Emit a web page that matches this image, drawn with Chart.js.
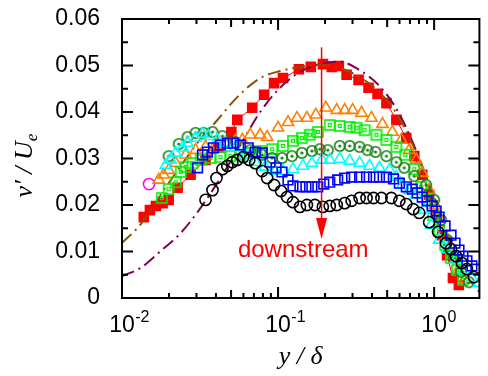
<!DOCTYPE html>
<html>
<head>
<meta charset="utf-8">
<script src="https://cdn.jsdelivr.net/npm/chart.js@4.4.0/dist/chart.umd.min.js"></script>
<style>
    html, body { margin: 0; padding: 0; background: #fff; }
    #wrap { width: 488px; height: 376px; }
</style>
</head>
<body>
<div id="wrap"><canvas id="profileChart" width="488" height="376"></canvas></div>
<script>
// perfis de v'/Ue em funcao de y/delta
const redX = [0.0138, 0.0151, 0.0165, 0.0182, 0.0199, 0.0227, 0.0275, 0.0343, 0.0415, 0.0502, 0.0548, 0.0683, 0.0814, 0.0943, 0.1076, 0.136, 0.162, 0.194, 0.221, 0.245, 0.275, 0.328, 0.380, 0.434, 0.495, 0.573, 0.663, 0.746, 0.839, 0.929, 1.03, 1.125, 1.21, 1.32, 1.44];
const redY = [0.0174, 0.0189, 0.0198, 0.0204, 0.0211, 0.0237, 0.0265, 0.0297, 0.0323, 0.0357, 0.0383, 0.0409, 0.0437, 0.0462, 0.0473, 0.0492, 0.0497, 0.0503, 0.0497, 0.0499, 0.0480, 0.0469, 0.0452, 0.0439, 0.0419, 0.0383, 0.0344, 0.0305, 0.0265, 0.0222, 0.0178, 0.0135, 0.0092, 0.0043, 0.0028];

const orangeX = [0.0172, 0.0185, 0.0199, 0.0221, 0.0256, 0.0296, 0.0343, 0.0397, 0.0460, 0.0532, 0.0590, 0.0663, 0.0768, 0.0851, 0.100, 0.1158, 0.1321, 0.153, 0.1746, 0.2022, 0.2376, 0.2672, 0.3004, 0.3428, 0.3969, 0.4666, 0.5401, 0.6164, 0.6932, 0.7681, 0.8387, 0.9294, 1.015, 1.076, 1.192, 1.302, 1.422, 1.553];
const orangeY = [0.0254, 0.0265, 0.0275, 0.0290, 0.0308, 0.0318, 0.0325, 0.0329, 0.0333, 0.0338, 0.0340, 0.0351, 0.0351, 0.0346, 0.0366, 0.0378, 0.0387, 0.0387, 0.0394, 0.0409, 0.0404, 0.0404, 0.0404, 0.0398, 0.0387, 0.0374, 0.0357, 0.0340, 0.0318, 0.0297, 0.0269, 0.0232, 0.0200, 0.0174, 0.0131, 0.0092, 0.0060, 0.0039];

const greenX = [0.0180, 0.0199, 0.0221, 0.0238, 0.0256, 0.0283, 0.0319, 0.0369, 0.0427, 0.0495, 0.0573, 0.0663, 0.0768, 0.0916, 0.1076, 0.1246, 0.1422, 0.1599, 0.1798, 0.2144, 0.2483, 0.2875, 0.3186, 0.3583, 0.4272, 0.4946, 0.5728, 0.6535, 0.7459, 0.8265, 0.9024, 0.9854, 1.076, 1.175, 1.283, 1.401, 1.530];
const greenY = [0.0215, 0.0234, 0.0249, 0.0271, 0.0282, 0.0290, 0.0297, 0.0301, 0.0303, 0.0305, 0.0308, 0.0312, 0.0316, 0.0320, 0.0327, 0.0338, 0.0344, 0.0351, 0.0357, 0.0372, 0.0370, 0.0368, 0.0366, 0.0361, 0.0351, 0.0340, 0.0325, 0.0308, 0.0277, 0.0239, 0.0211, 0.0178, 0.0146, 0.0114, 0.0086, 0.0060, 0.0039];

const darkX = [0.0199, 0.0231, 0.0263, 0.0296, 0.0333, 0.0380, 0.0440, 0.0532, 0.0663, 0.0791, 0.0916, 0.1060, 0.1228, 0.1422, 0.1647, 0.1852, 0.2082, 0.2483, 0.2875, 0.3330, 0.3743, 0.4209, 0.4946, 0.5728, 0.6439, 0.7459, 0.8892, 1.0, 1.108, 1.210, 1.341, 1.486, 1.671];
const darkY = [0.0305, 0.0331, 0.0346, 0.0355, 0.0355, 0.0357, 0.0348, 0.0335, 0.0318, 0.0308, 0.0301, 0.0301, 0.0305, 0.0312, 0.0316, 0.0320, 0.0318, 0.0327, 0.0327, 0.0325, 0.0318, 0.0314, 0.0305, 0.0292, 0.0280, 0.0262, 0.0243, 0.0211, 0.0168, 0.0125, 0.0086, 0.0056, 0.0034];

const cyanX = [0.0191, 0.0205, 0.0221, 0.0245, 0.0263, 0.0296, 0.0328, 0.0358, 0.0409, 0.0460, 0.0532, 0.0616, 0.0714, 0.0826, 0.0957, 0.1076, 0.1246, 0.1443, 0.1647, 0.1907, 0.2144, 0.2483, 0.2875, 0.3330, 0.3855, 0.4464, 0.5169, 0.5728, 0.6256, 0.6932, 0.7681, 0.8637, 0.9570, 1.076, 1.210, 1.381, 1.553, 1.746, 1.935];
const cyanY = [0.0286, 0.0297, 0.0312, 0.0323, 0.0333, 0.0344, 0.0353, 0.0348, 0.0340, 0.0333, 0.0323, 0.0308, 0.0292, 0.0282, 0.0273, 0.0273, 0.0277, 0.0284, 0.0290, 0.0297, 0.0297, 0.0299, 0.0295, 0.0290, 0.0284, 0.0280, 0.0275, 0.0260, 0.0243, 0.0232, 0.0222, 0.0189, 0.0157, 0.0125, 0.0105, 0.0082, 0.0060, 0.0043, 0.0032];

const blueX = [0.0305, 0.0328, 0.0353, 0.0386, 0.0427, 0.0473, 0.0517, 0.0573, 0.0644, 0.0714, 0.0791, 0.0889, 0.0971, 0.1060, 0.1158, 0.1246, 0.1381, 0.1508, 0.1647, 0.1798, 0.1963, 0.2144, 0.2410, 0.2672, 0.2960, 0.3330, 0.3688, 0.4088, 0.4464, 0.4946, 0.5481, 0.5984, 0.6632, 0.7244, 0.7795, 0.8387, 0.9024, 0.9712, 1.030, 1.076, 1.175, 1.283, 1.361, 1.443, 1.530, 1.623, 1.746, 1.852];
const blueY = [0.0280, 0.0308, 0.0314, 0.0323, 0.0329, 0.0333, 0.0333, 0.0329, 0.0323, 0.0314, 0.0312, 0.0292, 0.0280, 0.0271, 0.0254, 0.0241, 0.0239, 0.0239, 0.0239, 0.0239, 0.0245, 0.0249, 0.0254, 0.0258, 0.0260, 0.0260, 0.0260, 0.0260, 0.0260, 0.0260, 0.0256, 0.0247, 0.0239, 0.0234, 0.0226, 0.0217, 0.0209, 0.0198, 0.0187, 0.0174, 0.0155, 0.0135, 0.0118, 0.0103, 0.0090, 0.0080, 0.0069, 0.0062];

const blackX = [0.0343, 0.0380, 0.0403, 0.0440, 0.0473, 0.0509, 0.0548, 0.0599, 0.0654, 0.0714, 0.0791, 0.0851, 0.0943, 0.1045, 0.1141, 0.1246, 0.1381, 0.1530, 0.1721, 0.1935, 0.2144, 0.2376, 0.2672, 0.2960, 0.3330, 0.3688, 0.4088, 0.4597, 0.5322, 0.5984, 0.6632, 0.7350, 0.8025, 0.9294, 1.060, 1.192, 1.283, 1.381, 1.508, 1.623, 1.798];
const blackY = [0.0211, 0.0232, 0.0258, 0.0277, 0.0284, 0.0292, 0.0297, 0.0303, 0.0297, 0.0290, 0.0273, 0.0258, 0.0243, 0.0230, 0.0217, 0.0206, 0.0196, 0.0200, 0.0200, 0.0196, 0.0198, 0.0200, 0.0204, 0.0209, 0.0215, 0.0215, 0.0215, 0.0215, 0.0215, 0.0209, 0.0202, 0.0191, 0.0183, 0.0163, 0.0142, 0.0118, 0.0105, 0.0090, 0.0075, 0.0062, 0.0045];

const magentaX = [0.0149];
const magentaY = [0.0245];

// curvas de referencia (traco-ponto)
const brownX = [0.01, 0.0132, 0.0177, 0.0238, 0.0319, 0.0397, 0.0548, 0.0768, 0.103, 0.138, 0.185, 0.248, 0.333, 0.446, 0.598, 0.802, 1.075, 1.44, 1.95];
const brownY = [0.0118, 0.0159, 0.0222, 0.0284, 0.0342, 0.0378, 0.0432, 0.0473, 0.0488, 0.0497, 0.0501, 0.0495, 0.0475, 0.0443, 0.0387, 0.0297, 0.0178, 0.0071, 0.0013];
const purpleX = [0.01, 0.0132, 0.0177, 0.0238, 0.0319, 0.0427, 0.0573, 0.0768, 0.103, 0.138, 0.185, 0.248, 0.333, 0.446, 0.598, 0.802, 1.075, 1.44, 1.95];
const purpleY = [0.0047, 0.0065, 0.0101, 0.0140, 0.0194, 0.0258, 0.0329, 0.0400, 0.0452, 0.0486, 0.0503, 0.0508, 0.0490, 0.0456, 0.0396, 0.0301, 0.0183, 0.0073, 0.0013];

// eixos
const xMin = 0.01, xMax = 1.95;
const xDecades = [0.01, 0.1, 1];
const xExponents = ['-2', '-1', '0'];
const yTicks = [0, 0.01, 0.02, 0.03, 0.04, 0.05, 0.06];

// seta "downstream"
const arrowX = 0.19, arrowTop = 0.0539, arrowTip = 0.0127;
const noteX = 0.145, noteY = 0.0103, noteText = 'downstream';

function pts(xs, ys) {
    return xs.map((x, i) => ({ x: x, y: ys[i] }));
}

function boxDot(color) {
    const c = document.createElement('canvas');
    c.width = 14; c.height = 14;
    const g = c.getContext('2d');
    g.strokeStyle = color;
    g.lineWidth = 1.6;
    g.strokeRect(2, 2, 10, 10);
    g.lineWidth = 1.2;
    g.strokeRect(5.5, 5.5, 3, 3);
    return c;
}

function circleDot(color) {
    const c = document.createElement('canvas');
    c.width = 14; c.height = 14;
    const g = c.getContext('2d');
    g.strokeStyle = color;
    g.fillStyle = color;
    g.lineWidth = 1.6;
    g.beginPath(); g.arc(7, 7, 5.2, 0, Math.PI * 2); g.stroke();
    g.beginPath(); g.arc(7, 7, 1.6, 0, Math.PI * 2); g.fill();
    return c;
}

const axesPlugin = {
    id: 'axesFrame',
    afterDatasetsDraw(chart) {
        const ctx = chart.ctx;
        const a = chart.chartArea;
        const xs = chart.scales.x, ys = chart.scales.y;
        ctx.save();

        // seta
        const ax = xs.getPixelForValue(arrowX);
        const tip = ys.getPixelForValue(arrowTip);
        ctx.strokeStyle = '#ff0000';
        ctx.fillStyle = '#ff0000';
        ctx.lineWidth = 1.5;
        ctx.beginPath();
        ctx.moveTo(ax, ys.getPixelForValue(arrowTop));
        ctx.lineTo(ax, tip - 18);
        ctx.stroke();
        ctx.beginPath();
        ctx.moveTo(ax - 5.5, tip - 21);
        ctx.lineTo(ax + 5.5, tip - 21);
        ctx.lineTo(ax, tip);
        ctx.closePath();
        ctx.fill();

        ctx.font = '24px "Liberation Sans", Arial, sans-serif';
        ctx.textAlign = 'center';
        ctx.textBaseline = 'middle';
        ctx.fillText(noteText, xs.getPixelForValue(noteX), ys.getPixelForValue(noteY));

        // moldura
        ctx.strokeStyle = '#000';
        ctx.lineWidth = 2;
        ctx.strokeRect(a.left, a.top, a.right - a.left, a.bottom - a.top);

        // ticks do eixo y (para dentro, dos dois lados)
        ctx.beginPath();
        for (let i = 0; i < yTicks.length; i++) {
            const py = ys.getPixelForValue(yTicks[i]);
            ctx.moveTo(a.left, py); ctx.lineTo(a.left + 11, py);
            ctx.moveTo(a.right, py); ctx.lineTo(a.right - 11, py);
            if (i < yTicks.length - 1) {
                const pm = ys.getPixelForValue((yTicks[i] + yTicks[i + 1]) / 2);
                ctx.moveTo(a.left, pm); ctx.lineTo(a.left + 6, pm);
                ctx.moveTo(a.right, pm); ctx.lineTo(a.right - 6, pm);
            }
        }
        // ticks do eixo x (log)
        xDecades.forEach(d => {
            for (let m = 1; m <= 9; m++) {
                const v = d * m;
                if (v < xMin || v > xMax) continue;
                const px = xs.getPixelForValue(v);
                const len = m === 1 ? 11 : (m === 5 ? 8 : 5);
                ctx.moveTo(px, a.bottom); ctx.lineTo(px, a.bottom - len);
                ctx.moveTo(px, a.top); ctx.lineTo(px, a.top + len);
            }
        });
        ctx.stroke();

        // rotulos y
        ctx.fillStyle = '#000';
        ctx.font = '23px "Liberation Sans", Arial, sans-serif';
        ctx.textAlign = 'right';
        ctx.textBaseline = 'middle';
        yTicks.forEach(v => {
            ctx.fillText(v === 0 ? '0' : v.toFixed(2), a.left - 22, ys.getPixelForValue(v));
        });

        // rotulos x: 10 com expoente
        ctx.textBaseline = 'alphabetic';
        xDecades.forEach((d, i) => {
            const px = xs.getPixelForValue(d);
            ctx.font = '23px "Liberation Sans", Arial, sans-serif';
            ctx.textAlign = 'center';
            ctx.fillText('10', px, a.bottom + 34);
            const w = ctx.measureText('10').width;
            ctx.font = '16px "Liberation Sans", Arial, sans-serif';
            ctx.textAlign = 'left';
            ctx.fillText(xExponents[i], px + w / 2 + 0.5, a.bottom + 24);
        });

        // titulo x
        ctx.font = 'italic 26px "Liberation Serif", "Times New Roman", serif';
        ctx.textAlign = 'center';
        ctx.fillText('y / \u03b4', (a.left + a.right) / 2 + 0, a.bottom + 66);

        // titulo y (rodado)
        ctx.translate(32, (a.top + a.bottom) / 2 + 7);
        ctx.rotate(-Math.PI / 2);
        const mainFont = 'italic 26px "Liberation Serif", "Times New Roman", serif';
        const subFont = 'italic 17px "Liberation Serif", "Times New Roman", serif';
        ctx.font = mainFont;
        const main = 'v\u2032 / U';
        const wMain = ctx.measureText(main).width;
        ctx.font = subFont;
        const wSub = ctx.measureText('e').width;
        const x0 = -(wMain + wSub) / 2;
        ctx.textAlign = 'left';
        ctx.font = mainFont;
        ctx.fillText(main, x0, 0);
        ctx.font = subFont;
        ctx.fillText('e', x0 + wMain, 5);

        ctx.restore();
    }
};

document.addEventListener('DOMContentLoaded', function() {
    const ctx = document.getElementById('profileChart').getContext('2d');

    const marker = (label, xs, ys, style, color, radius, order, fill) => ({
        label: label,
        data: pts(xs, ys),
        showLine: false,
        pointStyle: style,
        pointRadius: radius,
        pointBorderColor: color,
        pointBackgroundColor: fill || 'rgba(0,0,0,0)',
        pointBorderWidth: 1.6,
        order: order
    });

    const datasets = [
        marker('black', blackX, blackY, 'circle', '#000000', 5.6, 1),
        marker('blue', blueX, blueY, 'rect', '#0000ff', 6.8, 2),
        marker('cyan', cyanX, cyanY, 'triangle', '#00ffff', 6.5, 3),
        marker('darkgreen', darkX, darkY, circleDot('#137f13'), '#137f13', 7, 4),
        marker('green', greenX, greenY, boxDot('#00ee00'), '#00ee00', 7, 5),
        marker('orange', orangeX, orangeY, 'triangle', '#ff8000', 6.5, 6),
        marker('magenta', magentaX, magentaY, 'circle', '#ff00ff', 5.6, 7),
        {
            label: 'brown',
            data: pts(brownX, brownY),
            showLine: true,
            borderColor: '#8c5000',
            borderWidth: 2,
            borderDash: [13, 5, 2, 5],
            pointRadius: 0,
            cubicInterpolationMode: 'monotone',
            order: 8
        },
        {
            label: 'purple',
            data: pts(purpleX, purpleY),
            showLine: true,
            borderColor: '#800050',
            borderWidth: 2,
            borderDash: [13, 5, 2, 5],
            pointRadius: 0,
            cubicInterpolationMode: 'monotone',
            order: 9
        },
        {
            label: 'red',
            data: pts(redX, redY),
            showLine: true,
            borderColor: '#ff0000',
            borderWidth: 1,
            pointStyle: 'rect',
            pointRadius: 7.5,
            pointBackgroundColor: '#ff0000',
            pointBorderColor: '#ff0000',
            pointBorderWidth: 0,
            order: 10
        }
    ];

    new Chart(ctx, {
        type: 'scatter',
        data: { datasets: datasets },
        options: {
            responsive: false,
            animation: false,
            events: [],
            layout: { padding: { left: 122, right: 8, top: 19, bottom: 78 } },
            plugins: {
                legend: { display: false },
                tooltip: { enabled: false }
            },
            scales: {
                x: { type: 'logarithmic', min: xMin, max: xMax, display: false },
                y: { type: 'linear', min: 0, max: 0.06, display: false }
            }
        },
        plugins: [axesPlugin]
    });
});
</script>
</body>
</html>
